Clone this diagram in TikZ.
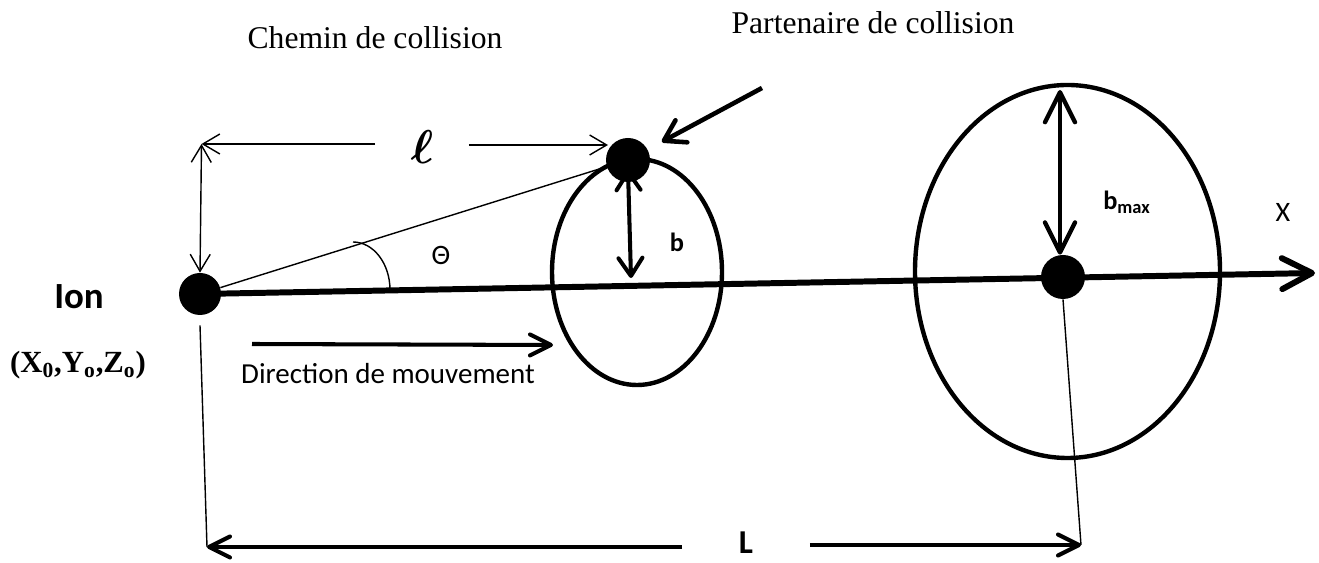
\RequirePackage{fix-cm}
\documentclass[tikz,border=0pt]{standalone}
\usepackage{fontspec}
\setmainfont{Liberation Serif}
\setsansfont{Carlito}
\usepackage{tikz}
\usetikzlibrary{arrows.meta}

\begin{document}
\begin{tikzpicture}[
  dot/.style={circle, fill=black, inner sep=0pt, minimum size=0.88cm},
  orbit/.style={line width=2.5pt},
  thinline/.style={line width=0.8pt},
  dimtip/.style={thinline, >={Straight Barb[length=0.34cm,width=0.4cm]}},
  axisline/.style={line width=3.4pt, -{Straight Barb[length=0.6cm,width=0.62cm,round]}},
  barrow/.style={line width=2.3pt, >={Straight Barb[length=0.36cm,width=0.48cm,round]}},
  bigarrow/.style={line width=2.5pt, >={Straight Barb[length=0.6cm,width=0.6cm,round]}},
  movearrow/.style={line width=2.3pt, >={Straight Barb[length=0.42cm,width=0.42cm,round]}},
  fatarrow/.style={line width=2.6pt, >={Straight Barb[length=0.4cm,width=0.5cm,round]}},
  title/.style={font=\fontsize{18}{21}\selectfont},
  sanslbl/.style={font=\sffamily\fontsize{16}{19}\selectfont},
  boldlbl/.style={font=\sffamily\bfseries\fontsize{15}{18}\selectfont}
]
\useasboundingbox (0,0) rectangle (26.38,11.26);

% titles
\node[title] (chemin) at (7.50,10.50) {Chemin de collision};
\node[title] (partenaire) at (17.46,10.80) {Partenaire de collision};

% particles
\node[dot, minimum size=0.84cm] (ion) at (4.00,5.38) {};
\node[dot] (partner) at (12.56,8.06) {};
\node[dot] (target) at (21.26,5.72) {};

% collision paths
\draw[orbit] (12.74,5.82) ellipse [x radius=1.70, y radius=2.26];
\draw[orbit] (21.35,5.83) ellipse [x radius=3.05, y radius=3.73];

% x axis
\coordinate (xtip) at (26.30,5.80);
\draw[axisline] (ion.center) -- (xtip);
\node[sanslbl] (xlabel) at (25.66,7.02) {X};

% angle
\draw[thinline] (ion) -- (partner);
\draw[thinline] (7.06,6.42) arc[start angle=90, end angle=0, x radius=0.74, y radius=0.96];
\node[sanslbl] (theta) at (8.82,6.16) {Θ};

% distance l
\node[minimum width=1.86cm, inner sep=0pt, font=\fontsize{27}{31}\selectfont\boldmath] (ell) at (8.44,8.32) {$\ell$};
\coordinate (corner) at (4.03,8.38);
\coordinate (lend) at (12.16,8.36);
\draw[dimtip, ->] (ell.west |- corner) -- (corner);
\draw[dimtip, ->] (ell.east |- lend) -- (lend);
\draw[dimtip, <->] (corner) -- (ion.north);

% impact parameters
\coordinate (bfoot) at (12.62,5.70);
\draw[barrow, <->] ([yshift=-0.2cm]partner.center) -- (bfoot);
\node[boldlbl] (blabel) at (13.54,6.42) {b};
\coordinate (rimtop) at (21.20,9.46);
\draw[bigarrow, <->] (rimtop) -- (rimtop |- target.north);
\node[boldlbl] (bmax) at (22.54,7.22) {b\textsubscript{max}};

% partner pointer
\coordinate (ptail) at (15.24,9.50);
\draw[fatarrow, ->, shorten >=0.32cm] (ptail) -- (partner);

% ion labels
\node[font=\sffamily\bfseries\fontsize{21}{25}\selectfont] (ionlabel) at (1.58,5.32) {Ion};
\node[font=\bfseries\fontsize{17.5}{20}\selectfont] (coords) at (1.56,3.96) {(X\textsubscript{0},Y\textsubscript{o},Z\textsubscript{o})};

% direction
\coordinate (dirstart) at (5.04,4.38);
\coordinate (dirend) at (11.06,4.36);
\draw[movearrow, ->] (dirstart) -- (dirend);
\node[font=\sffamily\fontsize{16.5}{19}\selectfont] (direction) at (7.76,3.78) {Direction de mouvement};

% distance L
\coordinate (Lleft) at (4.14,0.32);
\coordinate (Lright) at (21.62,0.36);
\draw[thinline] ([yshift=-0.2cm]ion.south) -- (Lleft);
\draw[thinline] (target.south) -- (Lright);
\node[minimum width=2.54cm, inner sep=0pt, font=\sffamily\bfseries\fontsize{19}{22}\selectfont] (Lnode) at (14.92,0.40) {L};
\draw[movearrow, ->] (Lnode.west |- Lleft) -- (Lleft);
\draw[movearrow, ->] (Lnode.east |- Lright) -- (Lright);
\end{tikzpicture}
\end{document}
